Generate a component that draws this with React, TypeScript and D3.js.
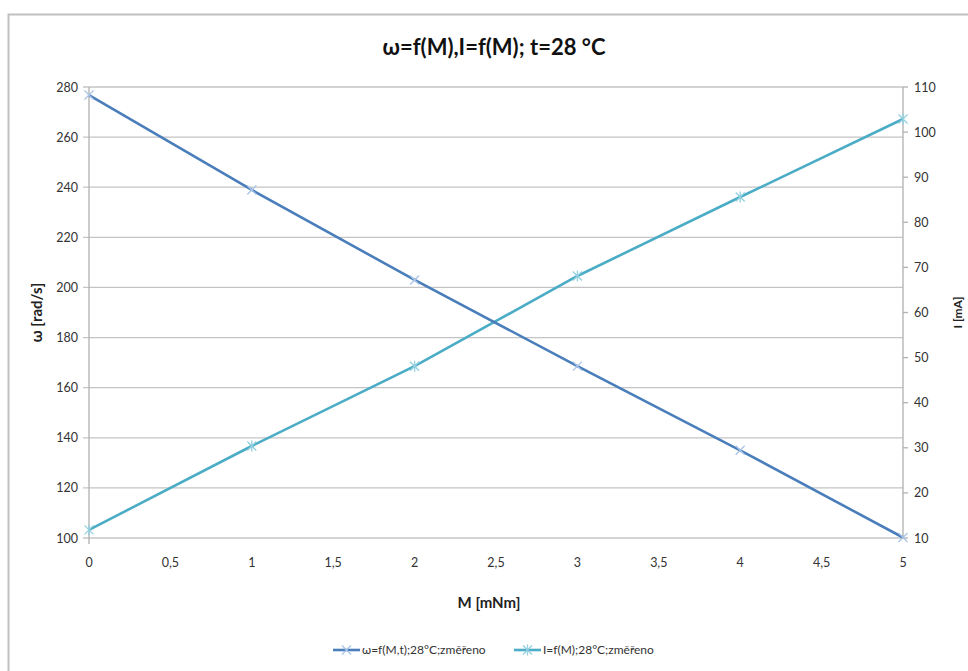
import React from "react";
import * as d3 from "d3";

const M = [0, 1, 2, 3, 4, 5];
const omega = [276.8, 238.9, 203, 168.6, 135, 100.2];
const current = [11.8, 30.4, 48.1, 68.1, 85.6, 102.9];
const xTicks = [0, 0.5, 1, 1.5, 2, 2.5, 3, 3.5, 4, 4.5, 5];
const yLeftTicks = [100, 120, 140, 160, 180, 200, 220, 240, 260, 280];
const yRightTicks = [10, 20, 30, 40, 50, 60, 70, 80, 90, 100, 110];
const title = "ω=f(M),I=f(M); t=28 °C";
const legendLabels = ["ω=f(M,t);28°C;změřeno", "I=f(M);28°C;změřeno"];

const FONT = "Lato, 'Open Sans', sans-serif";
const C1 = "#4a7ebb";
const C2 = "#4bacc6";
const M1 = "#a9c4e6";
const M2 = "#93d0e0";

export default function App() {
  const left = 89, right = 903, top = 87, bottom = 538;
  const x = d3.scaleLinear().domain([0, 5]).range([left, right]);
  const yL = d3.scaleLinear().domain([100, 280]).range([bottom, top]);
  const yR = d3.scaleLinear().domain([10, 110]).range([bottom, top]);
  const line1 = d3.line<number>().x((_, i) => x(M[i])).y((d) => yL(d))(omega) || "";
  const line2 = d3.line<number>().x((_, i) => x(M[i])).y((d) => yR(d))(current) || "";
  const s = 4.5;
  const xMark = (cx: number, cy: number, c: string, k: string) => (
    <path key={k} d={`M${cx - s},${cy - s}L${cx + s},${cy + s}M${cx - s},${cy + s}L${cx + s},${cy - s}`} stroke={c} strokeWidth={1.3} fill="none" />
  );
  const star = (cx: number, cy: number, c: string, k: string) => (
    <path key={k} d={`M${cx - s},${cy - s}L${cx + s},${cy + s}M${cx - s},${cy + s}L${cx + s},${cy - s}M${cx},${cy - s - 1}L${cx},${cy + s + 1}`} stroke={c} strokeWidth={1.3} fill="none" />
  );
  return (
    <svg width={968} height={671} style={{ position: "absolute", left: 0, top: 0, background: "#fff" }} fontFamily={FONT}>
      <rect x={8.5} y={14.5} width={1000} height={700} fill="#fff" stroke="#c0c0c0" strokeWidth={2} />
      <text x={494} y={55} textAnchor="middle" fontSize={22} fontWeight="bold" fill="#111">{title}</text>
      {yLeftTicks.map((t) => (
        <g key={"l" + t}>
          <line x1={left - 6} x2={right} y1={yL(t)} y2={yL(t)} stroke="#c4c4c4" strokeWidth={1.3} />
          <text x={left - 11} y={yL(t) + 4.5} textAnchor="end" fontSize={12.5} fill="#333">{t}</text>
        </g>
      ))}
      <line x1={left} x2={left} y1={top} y2={bottom + 6} stroke="#b0b0b0" strokeWidth={1.3} />
      <line x1={right} x2={right} y1={top} y2={bottom} stroke="#b0b0b0" strokeWidth={1.3} />
      {yRightTicks.map((t) => (
        <g key={"r" + t}>
          <line x1={right} x2={right + 5} y1={yR(t)} y2={yR(t)} stroke="#b0b0b0" strokeWidth={1.3} />
          <text x={right + 11} y={yR(t) + 4.5} textAnchor="start" fontSize={12.5} fill="#333">{t}</text>
        </g>
      ))}
      {xTicks.map((t) => (
        <text key={"x" + t} x={x(t)} y={567} textAnchor="middle" fontSize={12.5} fill="#333">{String(t).replace(".", ",")}</text>
      ))}
      <path d={line2} stroke={C2} strokeWidth={2.6} fill="none" />
      <path d={line1} stroke={C1} strokeWidth={2.6} fill="none" />
      {omega.map((v, i) => xMark(x(M[i]), yL(v), M1, "m1" + i))}
      {current.map((v, i) => star(x(M[i]), yR(v), M2, "m2" + i))}
      <text x={489} y={608} textAnchor="middle" fontSize={15} fontWeight="bold" fill="#222">M [mNm]</text>
      <text transform={`translate(42,${(top + bottom) / 2}) rotate(-90)`} textAnchor="middle" fontSize={15} fontWeight="bold" fill="#222">ω [rad/s]</text>
      <text transform={`translate(962,${(top + bottom) / 2}) rotate(-90)`} textAnchor="middle" fontSize={12} fontWeight="bold" fill="#222">I [mA]</text>
      <g>
        <line x1={333} x2={360} y1={650} y2={650} stroke={C1} strokeWidth={2.6} />
        {xMark(346.5, 650, M1, "lg1")}
        <text x={362} y={654} fontSize={12} fill="#333">{legendLabels[0]}</text>
        <line x1={514} x2={541} y1={650} y2={650} stroke={C2} strokeWidth={2.6} />
        {star(527.5, 650, M2, "lg2")}
        <text x={543} y={654} fontSize={12} fill="#333">{legendLabels[1]}</text>
      </g>
    </svg>
  );
}
